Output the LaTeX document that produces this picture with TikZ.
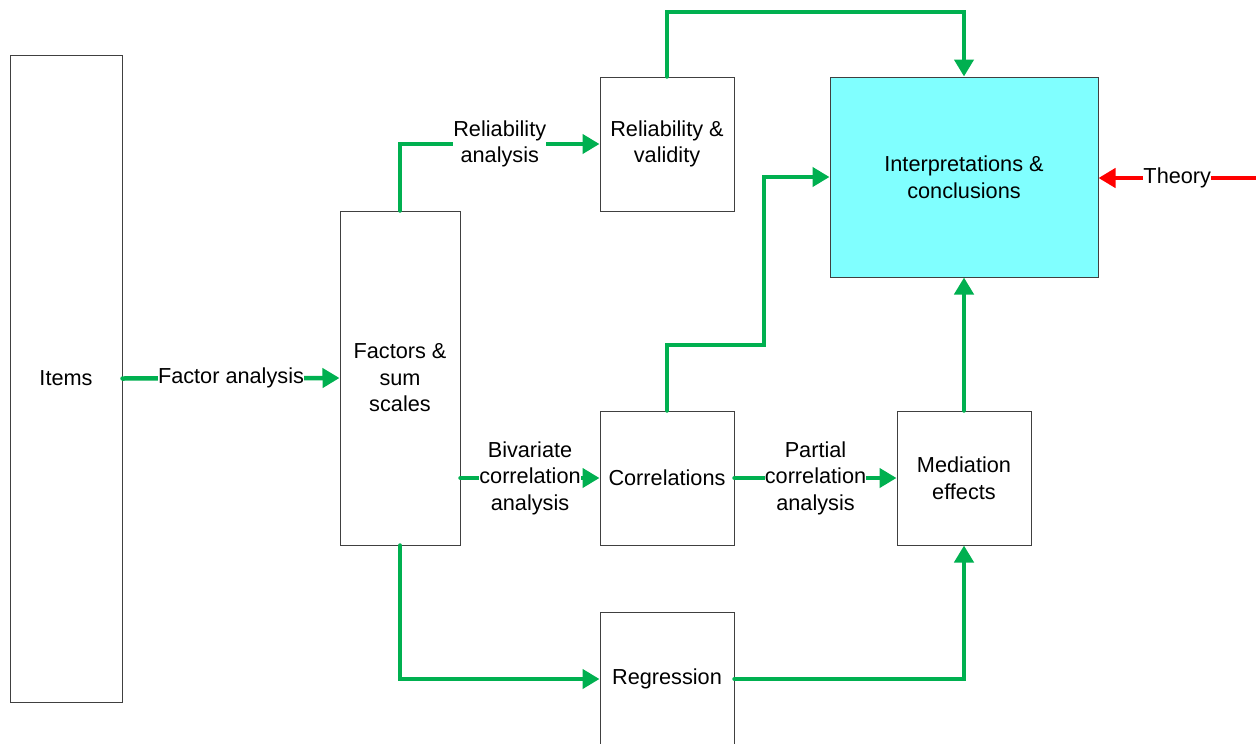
\documentclass[tikz,border=0pt]{standalone}
\usepackage{fontspec}
\setmainfont{Liberation Sans}
\usetikzlibrary{arrows.meta}
\definecolor{arrgreen}{HTML}{00B050}
\definecolor{arrred}{HTML}{FF0000}
\definecolor{boxline}{HTML}{404040}
\definecolor{cyanfill}{HTML}{80FFFF}
\tikzset{
  box/.style={draw=boxline, line width=1pt, fill=white, rectangle, inner sep=0pt, align=center,
    font=\fontsize{21.7}{26.5}\selectfont},
  conn/.style={draw=arrgreen, line width=4.5pt, line cap=round, line join=miter,
    -{Triangle[length=17pt,width=19pt]}},
  redconn/.style={conn, draw=arrred},
  lbl/.style={fill=white, inner sep=0pt, align=center, font=\fontsize{21.7}{26.5}\selectfont}
}
\begin{document}
\begin{tikzpicture}[x=1pt,y=-1pt]
\clip (0,0) rectangle (1256,744);
\fill[white] (0,0) rectangle (1256,744);
% boxes
\node[box, minimum width=112pt, minimum height=647pt] (items) at (66,378.5) {Items};
\node[box, minimum width=120pt, minimum height=334pt] (fac) at (400,378) {Factors \&\\sum\\scales};
\node[box, minimum width=134pt, minimum height=134pt] (rel) at (667,144) {Reliability \&\\validity};
\node[box, fill=cyanfill, minimum width=268pt, minimum height=200pt] (int) at (964,177) {Interpretations \&\\conclusions};
\node[box, minimum width=134pt, minimum height=134pt] (cor) at (667,478) {Correlations};
\node[box, minimum width=134pt, minimum height=134pt] (med) at (964,478) {Mediation\\effects};
\node[box, minimum width=134pt, minimum height=134pt] (reg) at (667,679) {Regression};
% helper coordinates
\coordinate (k1) at (764,345);
\coordinate (k2) at (800,12);
\coordinate (th) at (1256,178);
% connectors
\draw[conn] (items.east) -- node[lbl] {Factor analysis} (fac.west);
\draw[conn] (fac.north) |- node[lbl, pos=0.75] {Reliability\\analysis} (rel.west);
\draw[conn] (rel.north) |- (k2) -| (int.north);
\draw[conn] (fac.east |- cor.west) -- node[lbl] {Bivariate\\correlation\\analysis} (cor.west);
\draw[conn] (cor.north) |- (k1) |- (int.west);
\draw[conn] (cor.east) -- node[lbl] {Partial\\correlation\\analysis} (med.west);
\draw[conn] (med.north) -- (int.south);
\draw[conn] (fac.south) |- (reg.west);
\draw[conn] (reg.east) -| (med.south);
\draw[redconn] (th) -- node[lbl] {Theory} (int.east |- th);
\end{tikzpicture}
\end{document}
